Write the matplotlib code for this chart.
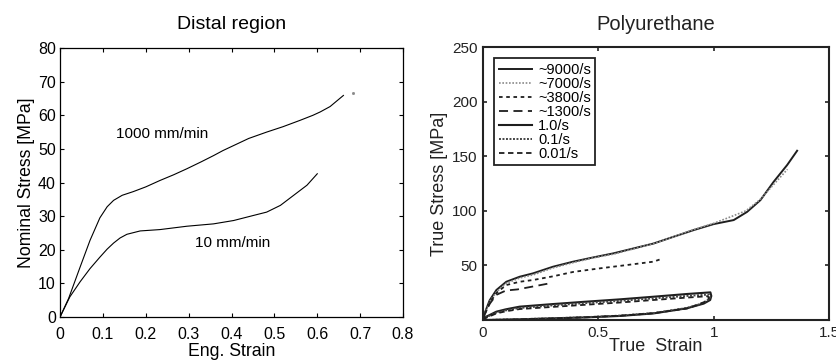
import numpy as np
import matplotlib.pyplot as plt

plt.rcParams['font.family'] = ['Liberation Sans', 'DejaVu Sans']

# ---- Distal region (left) ----
strain_1000 = [0, 0.02, 0.047, 0.07, 0.093, 0.11, 0.125, 0.145, 0.171, 0.2, 0.233, 0.265, 0.296,
               0.33, 0.358, 0.38, 0.405, 0.44, 0.482, 0.52, 0.56, 0.59, 0.607, 0.63, 0.645, 0.661]
stress_1000 = [0, 5.5, 14.9, 22.8, 29.5, 32.8, 34.7, 36.2, 37.3, 38.7, 40.6, 42.3, 44.1,
               46.2, 48.0, 49.5, 51.0, 53.1, 55.0, 56.6, 58.5, 60.0, 61.0, 62.6, 64.2, 65.9]
strain_10 = [0, 0.023, 0.047, 0.07, 0.093, 0.11, 0.125, 0.14, 0.156, 0.187, 0.233, 0.296,
             0.358, 0.405, 0.451, 0.482, 0.514, 0.545, 0.576, 0.6]
stress_10 = [0, 6.0, 10.5, 14.4, 17.8, 20.2, 22.0, 23.5, 24.6, 25.6, 26.0, 27.0,
             27.7, 28.7, 30.2, 31.2, 33.2, 36.2, 39.2, 42.6]
dot_strain = [0.683]
dot_stress = [66.7]

# ---- Polyurethane (right) ----
s_9000 = [0, 0.007, 0.029, 0.058, 0.101, 0.159, 0.217, 0.304, 0.391, 0.478, 0.565, 0.652,
          0.739, 0.826, 0.913, 1.0, 1.087, 1.145, 1.203, 1.26, 1.319, 1.362]
t_9000 = [0, 6, 18, 27.4, 35, 39.6, 42.7, 48.8, 53.4, 57.3, 61, 65.5,
          70, 76.2, 82.3, 87.8, 91.5, 99, 109.8, 126.5, 142, 155]
s_7000 = [0, 0.01, 0.03, 0.06, 0.1, 0.16, 0.22, 0.3, 0.39, 0.48, 0.57, 0.65,
          0.74, 0.83, 0.91, 1.0, 1.08, 1.14, 1.2, 1.26, 1.32]
t_7000 = [0, 7, 17, 26, 33.5, 38.5, 41.5, 47.5, 52.5, 57, 60.5, 65,
          70, 76.5, 82.5, 88.5, 95, 100, 110, 124, 138]
s_3800 = [0, 0.01, 0.03, 0.06, 0.101, 0.159, 0.217, 0.304, 0.391, 0.507, 0.623, 0.739, 0.768]
t_3800 = [0, 6, 16, 25, 32, 35, 36.6, 40, 44, 47.3, 50.3, 53.4, 55.5]
s_1300 = [0, 0.014, 0.03, 0.058, 0.1, 0.15, 0.2, 0.25, 0.3]
t_1300 = [0, 9, 15, 23, 27, 28, 30, 32, 34]
s_1 = [0, 0.014, 0.058, 0.1, 0.159, 0.304, 0.449, 0.594, 0.739, 0.884, 0.986, 0.99, 0.985,
       0.957, 0.884, 0.739, 0.594, 0.449, 0.304, 0.159, 0.014]
t_1 = [0, 3, 7.6, 9.8, 12.2, 14.6, 16.8, 18.9, 21.3, 23.8, 25.3, 22, 18.3,
       15, 10.7, 6, 3.7, 2.4, 1.5, 0.6, 0]
s_01 = [0, 0.014, 0.058, 0.1, 0.159, 0.304, 0.449, 0.594, 0.739, 0.884, 0.98, 0.985, 0.97,
        0.94, 0.884, 0.739, 0.594, 0.449, 0.304, 0.159, 0.014]
t_01 = [0, 2.5, 6.8, 8.8, 11, 13.4, 15.5, 17.5, 19.8, 22, 23.3, 20.5, 17.5,
        14.5, 11, 6.3, 4, 2.6, 1.6, 0.7, 0]
s_001 = [0, 0.014, 0.058, 0.1, 0.159, 0.304, 0.449, 0.594, 0.739, 0.884, 0.975, 0.98, 0.96,
         0.93, 0.884, 0.739, 0.594, 0.449, 0.304, 0.159, 0.014]
t_001 = [0, 2, 6, 8, 10, 12, 14, 16, 18.3, 20.5, 21.8, 19.5, 16.5,
         13.8, 10.5, 6.2, 3.9, 2.5, 1.4, 0.5, 0]

fig = plt.figure(figsize=(8.37, 3.63), dpi=100)

ax1 = fig.add_axes([0.0717, 0.1267, 0.4098, 0.741])
ax1.plot(strain_1000, stress_1000, color='black', lw=0.8)
ax1.plot(strain_10, stress_10, color='black', lw=0.8)
ax1.plot(dot_strain, dot_stress, color='#888888', marker='s', ms=1, lw=0)
ax1.text(0.131, 54.3, '1000 mm/min', fontsize=11, va='center')
ax1.text(0.315, 22, '10 mm/min', fontsize=11, va='center')
ax1.set_xlim(0, 0.8)
ax1.set_ylim(0, 80)
ax1.set_xticks(np.arange(0, 0.81, 0.1))
ax1.set_xticklabels(['0', '0.1', '0.2', '0.3', '0.4', '0.5', '0.6', '0.7', '0.8'])
ax1.set_yticks(range(0, 81, 10))
ax1.tick_params(direction='in', top=True, right=True, labelsize=11.5, length=3, width=0.8, pad=3)
ax1.tick_params(axis='x', pad=7)
ax1.set_xlabel('Eng. Strain', fontsize=12.7, labelpad=1)
ax1.set_ylabel('Nominal Stress [MPa]', fontsize=12.7, labelpad=2)
ax1.set_title('Distal region', fontsize=14, pad=14)
for sp in ax1.spines.values():
    sp.set_linewidth(0.9)

ax2 = fig.add_axes([0.577, 0.1185, 0.4134, 0.752])
c = '#1e1e1e'
ax2.plot(s_9000, t_9000, color=c, lw=1.4, ls='-', label='~9000/s')
ax2.plot(s_7000, t_7000, color='#8a8a8a', lw=1.2, ls=(0, (1, 1)), label='~7000/s')
ax2.plot(s_3800, t_3800, color=c, lw=1.3, ls=(0, (2, 2)), label='~3800/s')
ax2.plot(s_1300, t_1300, color=c, lw=1.3, ls=(0, (5, 3)), label='~1300/s')
ax2.plot(s_1, t_1, color=c, lw=1.5, ls='-', label='1.0/s')
ax2.plot(s_01, t_01, color='#444444', lw=1.4, ls=(0, (1, 0.8)), label='0.1/s')
ax2.plot(s_001, t_001, color=c, lw=1.3, ls=(0, (3, 2)), label='0.01/s')
ax2.set_xlim(0, 1.5)
ax2.set_ylim(0, 250)
ax2.set_xticks([0, 0.5, 1, 1.5])
ax2.set_xticklabels(['0', '0.5', '1', '1.5'])
ax2.set_yticks([50, 100, 150, 200, 250])
ax2.tick_params(direction='in', top=True, right=True, labelsize=11, length=3, width=1.2,
                pad=4, colors='#222222')
ax2.set_xlabel('True  Strain', fontsize=13, labelpad=-1, color='#222222')
ax2.set_ylabel('True Stress [MPa]', fontsize=13, labelpad=3, color='#222222')
ax2.set_title('Polyurethane', fontsize=14.5, pad=12, color='#222222')
for sp in ax2.spines.values():
    sp.set_linewidth(1.5)
    sp.set_color('#222222')
leg = ax2.legend(loc='upper left', bbox_to_anchor=(0.012, 0.985), fontsize=10.5,
                 handlelength=2.3, handletextpad=0.4, labelspacing=0.0,
                 borderpad=0.3, fancybox=False, framealpha=1, edgecolor='#222222')
leg.get_frame().set_linewidth(1.3)

fig.savefig('out.png', dpi=100)
